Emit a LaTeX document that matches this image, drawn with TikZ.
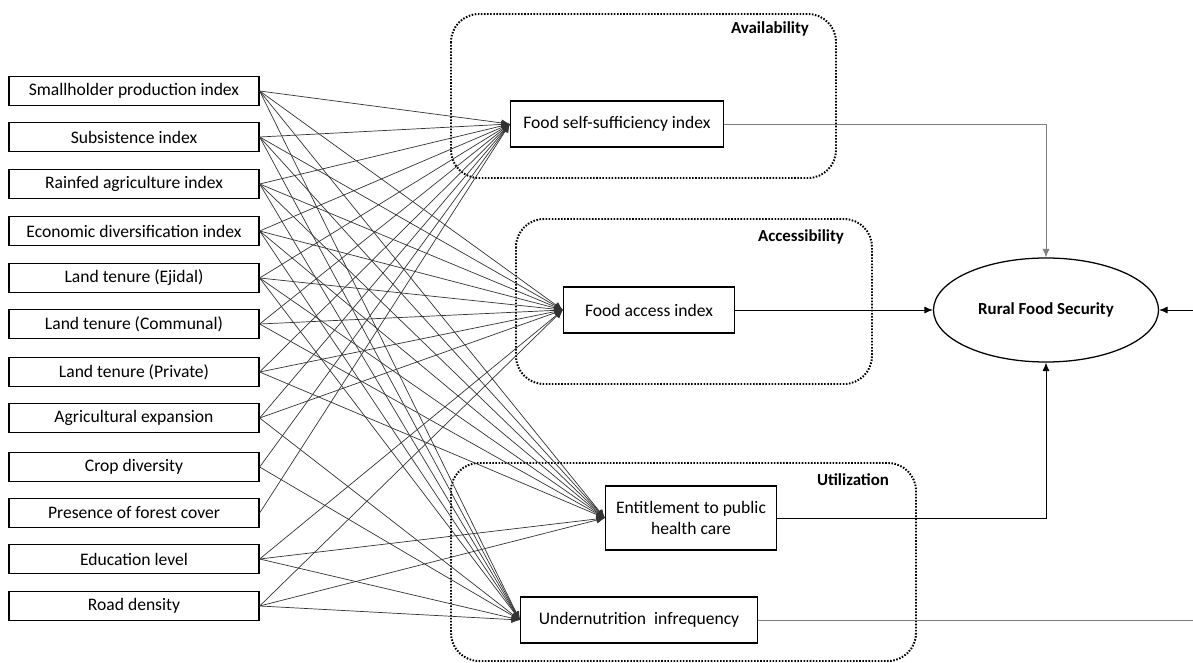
\documentclass[tikz,border=0pt]{standalone}
\usepackage{fontspec}
\setmainfont{Carlito}
\usetikzlibrary{arrows.meta,shapes.geometric}

\tikzset{
  var/.style={draw, line width=0.9pt, minimum width=6.25cm, minimum height=0.72cm,
              inner sep=1pt, font=\fontsize{12.5}{15}\selectfont},
  ind/.style={draw, line width=0.9pt, minimum height=1.15cm, inner sep=2pt,
              font=\fontsize{12.5}{15}\selectfont, align=center},
  grp/.style={line width=1.4pt, dash pattern=on 1.1pt off 1.1pt, rounded corners=0.7cm},
  grplabel/.style={font=\fontsize{12}{14}\selectfont\bfseries},
  lnk/.style={->, line width=0.5pt, black!80},
}

\begin{document}
\begin{tikzpicture}[x=0.025cm, y=-0.025cm, >={Latex[length=6pt,width=5pt]}]
  \useasboundingbox (0,0) rectangle (1193,663);
  % the three dimensions
  \draw[grp] (451,14) rectangle (836,178);
  \draw[grp] (516,219) rectangle (872,384);
  \draw[grp] (451,463) rectangle (916,661);
  \node[grplabel] (avl) at (770,29)  {Availability};
  \node[grplabel] (acc) at (801,237) {Accessibility};
  \node[grplabel] (utl) at (853,480) {Utilization};

  % explanatory variables
  \node[var] (smh)    at (134,91)  {Smallholder production index};
  \node[var] (sub)    at (134,137) {Subsistence index};
  \node[var] (rain)   at (134,184) {Rainfed agriculture index};
  \node[var] (econ)   at (134,231) {Economic diversification index};
  \node[var] (ejid)   at (134,278) {Land tenure (Ejidal)};
  \node[var] (comm)   at (134,324) {Land tenure (Communal)};
  \node[var] (priv)   at (134,372) {Land tenure (Private)};
  \node[var] (agri)   at (134,418) {Agricultural expansion};
  \node[var] (crop)   at (134,467) {Crop diversity};
  \node[var] (forest) at (134,513) {Presence of forest cover};
  \node[var] (edu)    at (134,559) {Education level};
  \node[var] (road)   at (134,606) {Road density};

  % indicators
  \node[ind, minimum width=5.325cm] (fss) at (617,124) {Food self-sufficiency index};
  \node[ind, minimum width=4.275cm] (fai) at (649,310) {Food access index};
  \node[ind, minimum width=4.275cm, minimum height=1.6cm] (eph) at (691,518)
       {Entitlement to public\\health care};
  \node[ind, minimum width=5.925cm] (unf) at (639,620) {Undernutrition\ \ infrequency};

  \node[draw, ellipse, line width=0.9pt, minimum width=5.625cm, minimum height=2.6cm,
        font=\fontsize{12}{14}\selectfont\bfseries] (rfs) at (1046,310) {Rural Food Security};

  \coordinate (rin)  at (1193,310);
  \coordinate (uout) at (1193,620);

  % variables to indicators
  \path[lnk] (smh.east)    edge (fss.west) edge (fai.west) edge (eph.west) edge (unf.west);
  \path[lnk] (sub.east)    edge (fss.west) edge (fai.west) edge (eph.west) edge (unf.west);
  \path[lnk] (rain.east)   edge (fss.west) edge (fai.west) edge (eph.west) edge (unf.west);
  \path[lnk] (econ.east)   edge (fss.west) edge (fai.west) edge (eph.west) edge (unf.west);
  \path[lnk] (ejid.east)   edge (fss.west) edge (fai.west) edge (eph.west) edge (unf.west);
  \path[lnk] (comm.east)   edge (fss.west) edge (fai.west) edge (eph.west);
  \path[lnk] (priv.east)   edge (fss.west) edge (fai.west) edge (eph.west);
  \path[lnk] (agri.east)   edge (fss.west) edge (fai.west) edge (unf.west);
  \path[lnk] (crop.east)   edge (fss.west) edge (unf.west);
  \path[lnk] (forest.east) edge (fss.west);
  \path[lnk] (edu.east)    edge (fai.west) edge (eph.west) edge (unf.west);
  \path[lnk] (road.east)   edge (fai.west) edge (eph.west) edge (unf.west);

  % indicators to food security
  \draw[->, line width=0.6pt, gray] (fss.east) -| (rfs.north);
  \draw[->, line width=0.6pt] (fai.east) -- (rfs.west);
  \draw[->, line width=0.6pt] (eph.east) -| (rfs.south);
  \draw[line width=0.6pt, gray] (unf.east) -- (uout);
  \draw[->, line width=0.6pt] (rin) -- (rfs.east);
\end{tikzpicture}
\end{document}
